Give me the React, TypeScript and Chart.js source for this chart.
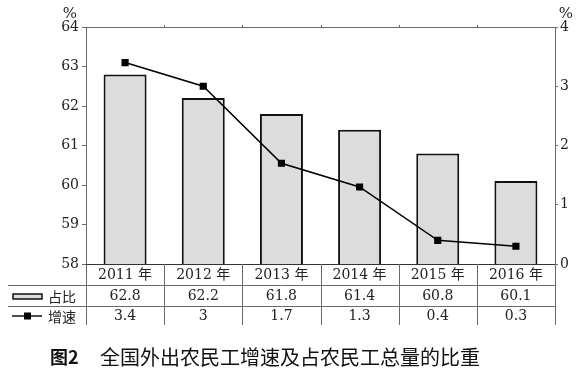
import React, { useEffect, useRef } from 'react';
import { Chart, registerables } from 'chart.js';

Chart.register(...registerables);

const years = ['2011 年', '2012 年', '2013 年', '2014 年', '2015 年', '2016 年'];
const shareValues = [62.8, 62.2, 61.8, 61.4, 60.8, 60.1];
const growthValues = [3.4, 3, 1.7, 1.3, 0.4, 0.3];
const seriesNames = ['占比', '增速'];
const unitLabel = '%';
const captionPrefix = '图2';
const captionText = '全国外出农民工增速及占农民工总量的比重';

const NUM_FONT = "'DejaVu Serif', 'Noto Sans CJK SC', serif";
const CJK_FONT = "'Noto Sans CJK SC', sans-serif";
const LINE_COLOR = '#6a6a6a';
const BAR_FILL = '#dcdcdc';

const tablePlugin = {
  id: 'tablePlugin',
  afterDraw(chart: any) {
    const ctx = chart.ctx as CanvasRenderingContext2D;
    const ca = chart.chartArea;
    const L = Math.round(ca.left), R = Math.round(ca.right), T = Math.round(ca.top), B = Math.round(ca.bottom);
    const rows = [B, B + 21, B + 42, B + 61];
    const tableLeft = 8;
    const n = years.length;
    const colW = (R - L) / n;
    ctx.save();
    ctx.strokeStyle = LINE_COLOR;
    ctx.lineWidth = 1;
    const hline = (x1: number, x2: number, y: number) => {
      ctx.beginPath(); ctx.moveTo(x1, y + 0.5); ctx.lineTo(x2, y + 0.5); ctx.stroke();
    };
    const vline = (x: number, y1: number, y2: number) => {
      ctx.beginPath(); ctx.moveTo(x + 0.5, y1); ctx.lineTo(x + 0.5, y2); ctx.stroke();
    };
    // frame
    hline(L, R, T);
    vline(L, T, rows[3]);
    vline(R, T, rows[3]);
    ctx.strokeStyle = '#333';
    hline(L, R, B);
    ctx.strokeStyle = LINE_COLOR;
    hline(tableLeft, R, rows[1]);
    hline(tableLeft, R, rows[2]);
    for (let i = 1; i < n; i++) {
      const x = Math.round(L + i * colW);
      vline(x, B, rows[3]);
      vline(x, T - 2, T);
    }
    // text
    ctx.fillStyle = '#222';
    ctx.textAlign = 'center';
    ctx.textBaseline = 'middle';
    for (let i = 0; i < n; i++) {
      const cx = L + (i + 0.5) * colW;
      ctx.font = `14px ${NUM_FONT}`;
      ctx.fillText(years[i], cx, (rows[0] + rows[1]) / 2 + 1);
      ctx.fillText(String(shareValues[i]), cx, (rows[1] + rows[2]) / 2 + 1);
      ctx.fillText(String(growthValues[i]), cx, (rows[2] + rows[3]) / 2 + 1);
    }
    // legend cells
    ctx.textAlign = 'left';
    ctx.font = `14px ${CJK_FONT}`;
    ctx.fillText(seriesNames[0], 48, (rows[1] + rows[2]) / 2 + 1);
    ctx.fillText(seriesNames[1], 48, (rows[2] + rows[3]) / 2 + 1);
    ctx.fillStyle = BAR_FILL;
    ctx.strokeStyle = '#111';
    ctx.lineWidth = 1.5;
    ctx.fillRect(13, 294, 29, 5);
    ctx.strokeRect(13, 294, 29, 5);
    const gy = (rows[2] + rows[3]) / 2 + 0.5;
    ctx.beginPath(); ctx.moveTo(12, gy); ctx.lineTo(42, gy); ctx.stroke();
    ctx.fillStyle = '#000';
    ctx.fillRect(24, gy - 3.5, 7, 7);
    // unit labels
    ctx.fillStyle = '#222';
    ctx.font = `15px ${NUM_FONT}`;
    ctx.textAlign = 'center';
    ctx.fillText(unitLabel, 70, 14);
    ctx.fillText(unitLabel, 566, 14);
    // caption
    ctx.textAlign = 'left';
    ctx.fillStyle = '#111';
    ctx.font = `bold 18px ${CJK_FONT}`;
    ctx.fillText(captionPrefix, 50, 357);
    ctx.font = `20px ${CJK_FONT}`;
    ctx.fillText(captionText, 100, 357);
    ctx.restore();
  },
};

export default function App() {
  const ref = useRef<HTMLCanvasElement | null>(null);
  useEffect(() => {
    if (!ref.current) return;
    const chart = new Chart(ref.current, {
      type: 'bar',
      data: {
        labels: years,
        datasets: [
          {
            type: 'line',
            label: seriesNames[1],
            data: growthValues,
            yAxisID: 'y1',
            borderColor: '#000',
            backgroundColor: '#000',
            borderWidth: 1.5,
            pointStyle: 'rect',
            pointRadius: 4,
            pointBackgroundColor: '#000',
            pointBorderColor: '#000',
            tension: 0,
            order: 0,
          } as any,
          {
            type: 'bar',
            label: seriesNames[0],
            data: shareValues,
            yAxisID: 'y',
            backgroundColor: BAR_FILL,
            borderColor: '#111',
            borderWidth: 2,
            categoryPercentage: 1,
            barPercentage: 0.55,
            order: 1,
          } as any,
        ],
      },
      options: {
        responsive: false,
        animation: false,
        devicePixelRatio: 1,
        layout: { padding: { top: 27, bottom: 116, left: 0, right: 0 } },
        plugins: { legend: { display: false }, tooltip: { enabled: false } },
        scales: {
          x: { display: false, offset: true },
          y: {
            position: 'left',
            min: 58,
            max: 64,
            ticks: { stepSize: 1, color: '#222', font: { family: NUM_FONT, size: 14 }, padding: 3 },
            grid: { drawOnChartArea: false, color: LINE_COLOR, tickLength: 4 },
            border: { display: false },
            afterFit: (s: any) => { s.width = 86; },
          },
          y1: {
            position: 'right',
            min: 0,
            max: 4,
            ticks: { stepSize: 1, color: '#222', font: { family: NUM_FONT, size: 14 }, padding: 2 },
            grid: { drawOnChartArea: false, color: LINE_COLOR, tickLength: 3 },
            border: { display: false },
            afterFit: (s: any) => { s.width = 27; },
          },
        },
      },
      plugins: [tablePlugin],
    });
    return () => chart.destroy();
  }, []);
  return (
    <div style={{ position: 'absolute', left: 0, top: 0, width: 582, height: 380, background: '#fff' }}>
      <canvas ref={ref} width={582} height={380} style={{ display: 'block' }} />
    </div>
  );
}
